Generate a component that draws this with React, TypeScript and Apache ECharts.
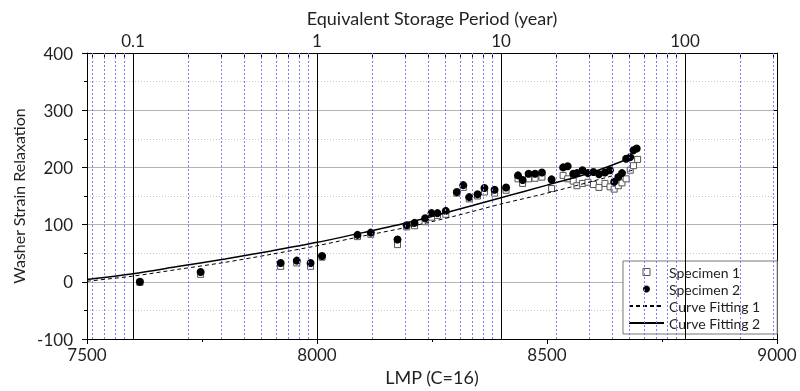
import React, { useEffect, useRef } from "react";
import * as echarts from "echarts";

// Specimen 1 (open squares)
const spec1LMP = [7615, 7747, 7921, 7956, 7986, 8011, 8088, 8117, 8175, 8195, 8212, 8235, 8249, 8262, 8280, 8304, 8318, 8331, 8349, 8364, 8386, 8411, 8437, 8447, 8460, 8474, 8489, 8510, 8535, 8545, 8557, 8565, 8577, 8589, 8601, 8613, 8626, 8637, 8646, 8655, 8663, 8672, 8681, 8688, 8697];
const spec1Val = [-1, 13, 27, 33, 27, 43, 79, 83, 65, 96, 98, 105, 113, 116, 118, 155, 165, 145, 150, 157, 155, 160, 180, 172, 180, 181, 183, 163, 186, 180, 176, 168, 172, 174, 170, 165, 172, 166, 162, 168, 173, 180, 195, 203, 214];

// Specimen 2 (filled circles)
const spec2LMP = [7615, 7747, 7921, 7956, 7986, 8011, 8088, 8117, 8175, 8195, 8212, 8235, 8249, 8262, 8280, 8304, 8318, 8331, 8349, 8364, 8386, 8411, 8437, 8447, 8460, 8474, 8489, 8510, 8535, 8545, 8557, 8565, 8577, 8589, 8601, 8613, 8626, 8637, 8646, 8655, 8663, 8672, 8681, 8688, 8695];
const spec2Val = [0, 17, 33, 37, 33, 45, 82, 86, 74, 99, 103, 111, 120, 120, 124, 157, 169, 148, 153, 164, 161, 165, 186, 178, 189, 189, 191, 179, 200, 202, 189, 190, 195, 190, 192, 188, 191, 195, 175, 183, 190, 215, 218, 230, 233];

// Fitted curves
const fit1LMP = [7500, 7600, 7700, 7800, 7900, 8000, 8100, 8200, 8300, 8400, 8500, 8600, 8690];
const fit1Val = [1, 10, 22, 34, 48, 63, 80, 96, 115, 136, 155, 176, 196];
const fit2LMP = [7500, 7600, 7700, 7800, 7900, 8000, 8100, 8200, 8300, 8400, 8500, 8600, 8680];
const fit2Val = [4, 14, 27, 40, 54, 69, 86, 104, 125, 147, 169, 192, 216];

// Top axis (equivalent storage period, years)
const yearDecades = [0.1, 1, 10, 100];
const yearDecadeLabels = ["0.1", "1", "10", "100"];
const yearMinorMultipliers = [2, 3, 4, 5, 6, 7, 8, 9];
const yearMinorBases = [0.01, 0.1, 1, 10, 100];

const LMP_MIN = 7500;
const LMP_MAX = 9000;
const yearToLMP = (y: number) => 8000 + 400 * Math.log10(y);

const FONT = "Lato";
const TXT = "#231f20";

export default function App() {
  const ref = useRef<HTMLDivElement>(null);
  useEffect(() => {
    const chart = echarts.init(ref.current!, null, { renderer: "svg" });
    const decadeLMP = yearDecades.map(yearToLMP);
    const minorLMP: number[] = [];
    yearMinorBases.forEach((b) =>
      yearMinorMultipliers.forEach((m) => {
        const v = yearToLMP(b * m);
        if (v > LMP_MIN && v < LMP_MAX) minorLMP.push(v);
      })
    );
    const pairs = (xs: number[], ys: number[]) => xs.map((x, i) => [x, ys[i]]);

    chart.setOption({
      animation: false,
      textStyle: { fontFamily: FONT, color: TXT },
      grid: { left: 87, right: 23, top: 53, bottom: 52 },
      legend: {
        orient: "vertical",
        left: 623,
        top: 261,
        symbolKeepAspect: true,
        data: [
          { name: "Specimen 1", icon: "path://M0,0H10V10H0Z", itemStyle: { color: "#fff", borderColor: "#555", borderWidth: 1 } },
          { name: "Specimen 2", icon: "circle" },
          { name: "Curve Fitting 1", itemStyle: { opacity: 0 } },
          { name: "Curve Fitting 2", itemStyle: { opacity: 0 } },
        ],
        itemWidth: 35,
        itemHeight: 7,
        itemGap: 1,
        padding: [3, 17, 3, 5],
        borderColor: "#777",
        borderWidth: 1,
        backgroundColor: "#fff",
        textStyle: { fontFamily: FONT, fontSize: 14, color: TXT, lineHeight: 16 },
      },
      xAxis: [
        {
          type: "value",
          min: LMP_MIN,
          max: LMP_MAX,
          interval: 500,
          position: "bottom",
          name: "LMP (C=16)",
          nameLocation: "middle",
          nameGap: 23,
          nameTextStyle: { fontFamily: FONT, fontSize: 18, color: TXT },
          axisLine: { show: true, onZero: false, lineStyle: { color: "#000", width: 1 } },
          axisTick: { show: true, length: 5, lineStyle: { color: "#000" } },
          minorTick: { show: true, splitNumber: 2, length: 3, lineStyle: { color: "#000" } },
          axisLabel: { fontFamily: FONT, fontSize: 17, color: TXT, margin: 7, formatter: (v: number) => String(v) },
          splitLine: { show: false },
        },
        {
          type: "value",
          min: LMP_MIN,
          max: LMP_MAX,
          position: "top",
          name: "Equivalent Storage Period (year)",
          nameLocation: "middle",
          nameGap: 23,
          nameTextStyle: { fontFamily: FONT, fontSize: 18, color: TXT },
          axisLine: { show: true, onZero: false, lineStyle: { color: "#000", width: 1 } },
          axisTick: { show: true, inside: true, length: 4, customValues: minorLMP, lineStyle: { color: "#000" } },
          axisLabel: {
            fontFamily: FONT,
            fontSize: 17,
            color: TXT,
            margin: 4,
            customValues: decadeLMP,
            formatter: (v: number) => {
              let best = 0;
              decadeLMP.forEach((d, i) => {
                if (Math.abs(d - v) < Math.abs(decadeLMP[best] - v)) best = i;
              });
              return yearDecadeLabels[best];
            },
          },
          splitLine: { show: false },
        },
      ],
      yAxis: [
        {
          type: "value",
          min: -100,
          max: 400,
          interval: 100,
          name: "Washer Strain Relaxation",
          nameLocation: "middle",
          nameGap: 57,
          nameTextStyle: { fontFamily: FONT, fontSize: 16, color: TXT },
          axisLine: { show: true, onZero: false, lineStyle: { color: "#000", width: 1 } },
          axisTick: { show: true, length: 5, lineStyle: { color: "#000" } },
          minorTick: { show: true, splitNumber: 2, length: 3, lineStyle: { color: "#000" } },
          axisLabel: { fontFamily: FONT, fontSize: 17, color: TXT, margin: 14, formatter: (v: number) => String(v) },
          splitLine: { show: true, lineStyle: { color: "#b4b4b4", width: 1 } },
          minorSplitLine: { show: true, lineStyle: { color: "#c8c8c8", width: 1, type: [1, 2] } },
        },
        {
          type: "value",
          min: -100,
          max: 400,
          interval: 100,
          position: "right",
          axisLine: { show: true, onZero: false, lineStyle: { color: "#000", width: 1 } },
          axisTick: { show: true, inside: true, length: 4, lineStyle: { color: "#000" } },
          axisLabel: { show: false },
          splitLine: { show: false },
        },
      ],
      series: [
        {
          name: "gridlines",
          type: "line",
          data: [],
          silent: true,
          z: 1,
          markLine: {
            silent: true,
            symbol: "none",
            label: { show: false },
            animation: false,
            data: [
              ...minorLMP.map((v) => ({ xAxis: v, lineStyle: { color: "#7b7bff", width: 1, type: [2, 2] } })),
              ...decadeLMP.map((v) => ({ xAxis: v, lineStyle: { color: "#000", width: 1, type: "solid" } })),
            ],
          },
        },
        {
          name: "Specimen 1",
          type: "scatter",
          symbol: "rect",
          symbolSize: 6,
          symbolKeepAspect: true,
          z: 3,
          itemStyle: { color: "#fff", borderColor: "#555", borderWidth: 1, opacity: 1 },
          data: pairs(spec1LMP, spec1Val),
        },
        {
          name: "Specimen 2",
          type: "scatter",
          symbol: "circle",
          symbolSize: 8,
          z: 4,
          itemStyle: { color: "#000", opacity: 1 },
          data: pairs(spec2LMP, spec2Val),
        },
        {
          name: "Curve Fitting 1",
          type: "line",
          symbol: "none",
          smooth: 0.3,
          z: 5,
          lineStyle: { color: "#000", width: 1, type: [4, 3] },
          itemStyle: { color: "#000" },
          data: pairs(fit1LMP, fit1Val),
        },
        {
          name: "Curve Fitting 2",
          type: "line",
          symbol: "none",
          smooth: 0.3,
          z: 5,
          lineStyle: { color: "#000", width: 1.5, type: "solid" },
          itemStyle: { color: "#000" },
          data: pairs(fit2LMP, fit2Val),
        },
      ],
    });
    return () => chart.dispose();
  }, []);
  return <div ref={ref} style={{ position: "fixed", left: 0, top: 0, width: 800, height: 391 }} />;
}
